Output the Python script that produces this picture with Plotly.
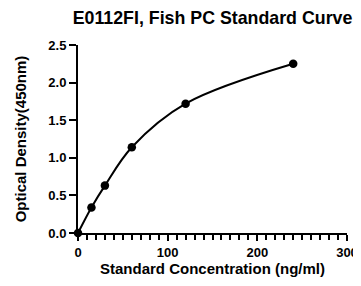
import plotly.graph_objects as go

concentration = [0, 15, 30, 60, 120, 240]
optical_density = [0.0, 0.34, 0.63, 1.14, 1.72, 2.25]

x_tick_values = [0, 100, 200, 300]
y_tick_values = [0.0, 0.5, 1.0, 1.5, 2.0, 2.5]

title_text = "E0112FI, Fish PC Standard Curve"
x_title = "Standard Concentration (ng/ml)"
y_title = "Optical Density(450nm)"

fig = go.Figure()
fig.add_trace(go.Scatter(
    x=concentration, y=optical_density,
    mode="lines+markers",
    line=dict(color="black", width=2, shape="spline", smoothing=1.0),
    marker=dict(color="black", size=8.5),
    cliponaxis=False,
    showlegend=False,
))

font_family = "Liberation Sans, Arial, sans-serif"
# page body has an 8px default margin, so the figure is sized/offset to compensate
fig.update_layout(
    width=353, height=278,
    margin=dict(l=70, r=14, t=37, b=53, autoexpand=False),
    paper_bgcolor="white", plot_bgcolor="white",
    title=dict(text="<b>" + title_text + "</b>", x=0.5, xref="paper", y=0.966, yref="container",
               xanchor="center", yanchor="middle", automargin=False,
               font=dict(family=font_family, size=17.8, color="black")),
    font=dict(family=font_family, color="black"),
)
fig.update_xaxes(
    range=[0, 300], tickvals=x_tick_values,
    ticktext=["<b>%d</b>" % v for v in x_tick_values],
    showline=True, linecolor="black", linewidth=2, mirror=False, automargin=False,
    ticks="outside", ticklen=6, tickwidth=2, tickcolor="black",
    minor=dict(dtick=10, ticks="outside", ticklen=5, tickwidth=1.5, tickcolor="black", showgrid=False),
    showgrid=False, zeroline=False,
    tickfont=dict(size=13, family=font_family, color="black"),
    title=dict(text="<b>" + x_title + "</b>", font=dict(size=15, family=font_family, color="black"), standoff=5),
)
fig.update_yaxes(
    range=[0, 2.5], tickvals=y_tick_values,
    ticktext=["<b>%.1f</b>" % v for v in y_tick_values],
    showline=True, linecolor="black", linewidth=2, automargin=False,
    ticks="outside", ticklen=7, tickwidth=2, tickcolor="black",
    showgrid=False, zeroline=False,
    tickfont=dict(size=13, family=font_family, color="black"),
    title=dict(text="<b>" + y_title + "</b>", font=dict(size=15, family=font_family, color="black"), standoff=18),
)

fig.write_html("out.html")
